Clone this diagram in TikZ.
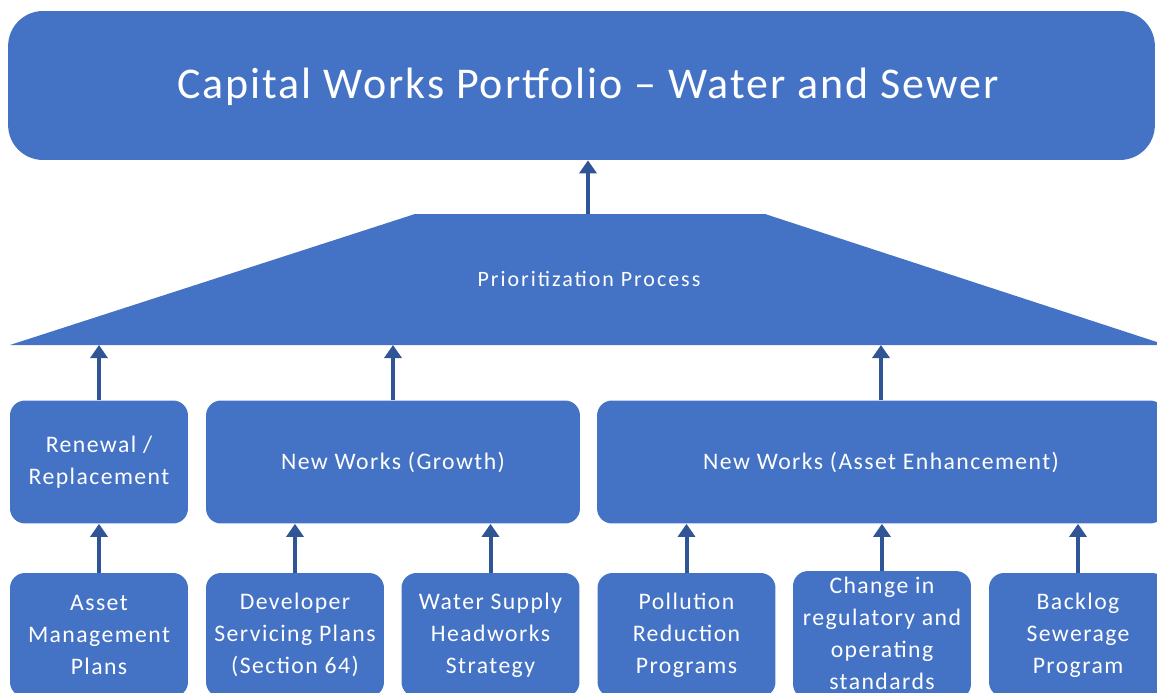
\documentclass[tikz,border=0pt]{standalone}
\usepackage{fontspec}
\setmainfont{Carlito}
\newfontfamily\boxfont[LetterSpace=6]{Carlito}
\newfontfamily\prioFont[LetterSpace=9]{Carlito}
\newfontfamily\titleFont[LetterSpace=4.5]{Carlito}
\usetikzlibrary{arrows.meta}
\definecolor{boxblue}{HTML}{4472C4}
\definecolor{arrowblue}{HTML}{2F5597}

\begin{document}
\begin{tikzpicture}[x=0.02cm, y=-0.02cm,
        box/.style={
                fill=boxblue,
                text=white,
                align=center,
                inner sep=0pt,
                rounded corners=0.3cm,
        },
        srcbox/.style={box, minimum width=3.56cm, minimum height=2.48cm,
                font=\boxfont\fontsize{13.5}{18.2}\selectfont},
        catbox/.style={box, minimum height=2.46cm,
                font=\boxfont\fontsize{13.5}{18.2}\selectfont},
        uparrow/.style={draw=arrowblue, line width=0.08cm,
                -{Triangle[width=0.34cm, length=0.26cm]}},
        ]
    \useasboundingbox (0,0) rectangle (1157,693);
    \clip (0,0) rectangle (1157,693);

    % portfolio
    \node[box, rounded corners=0.7cm, minimum width=22.94cm, minimum height=2.98cm] (portfolio) at (581.5,85.5) {};
    \node[text=white, font=\titleFont\fontsize{25}{30}\selectfont] (title) at (588,87) {Capital Works Portfolio \textendash{} Water and Sewer};

    % prioritization
    \fill[boxblue] (415,214) -- (765,214) -- (1166,345) -- (10,345) -- cycle;
    \node[text=white, font=\prioFont\fontsize{12.5}{15}\selectfont] (prio) at (589,279) {Prioritization Process};
    \coordinate (ptop) at (588,214);
    \coordinate (pbase) at (588,345);

    % categories
    \node[catbox, minimum width=3.56cm] (renewal) at (99,462) {Renewal /\\Replacement};
    \node[catbox, minimum width=7.48cm] (growth) at (393,462) {New Works (Growth)};
    \node[catbox, minimum width=11.36cm] (enhance) at (881,462) {New Works (Asset Enhancement)};

    % sources
    \node[srcbox] (asset) at (99,635) {Asset\\Management\\Plans};
    \node[srcbox] (developer) at (295,635) {Developer\\Servicing Plans\\(Section 64)};
    \node[srcbox] (headworks) at (490.5,635) {Water Supply\\Headworks\\Strategy};
    \node[srcbox] (pollution) at (686.5,635) {Pollution\\Reduction\\Programs};
    \node[srcbox] (regulatory) at (882,635) {\raisebox{2pt}{\begin{tabular}{@{}c@{}}Change in\\regulatory and\\operating\\standards\end{tabular}}};
    \node[srcbox] (backlog) at (1078,635) {Backlog\\Sewerage\\Program};

    % arrows
    \draw[uparrow] (ptop) -- (portfolio.south -| ptop);
    \draw[uparrow] (renewal.north) -- (renewal.north |- pbase);
    \draw[uparrow] (growth.north) -- (growth.north |- pbase);
    \draw[uparrow] (enhance.north) -- (enhance.north |- pbase);
    \draw[uparrow] (asset.north) -- (renewal.south);
    \draw[uparrow] (developer.north) -- (developer.north |- growth.south);
    \draw[uparrow] (headworks.north) -- (headworks.north |- growth.south);
    \draw[uparrow] (pollution.north) -- (pollution.north |- enhance.south);
    \draw[uparrow] (regulatory.north) -- (regulatory.north |- enhance.south);
    \draw[uparrow] (backlog.north) -- (backlog.north |- enhance.south);
\end{tikzpicture}
\end{document}
